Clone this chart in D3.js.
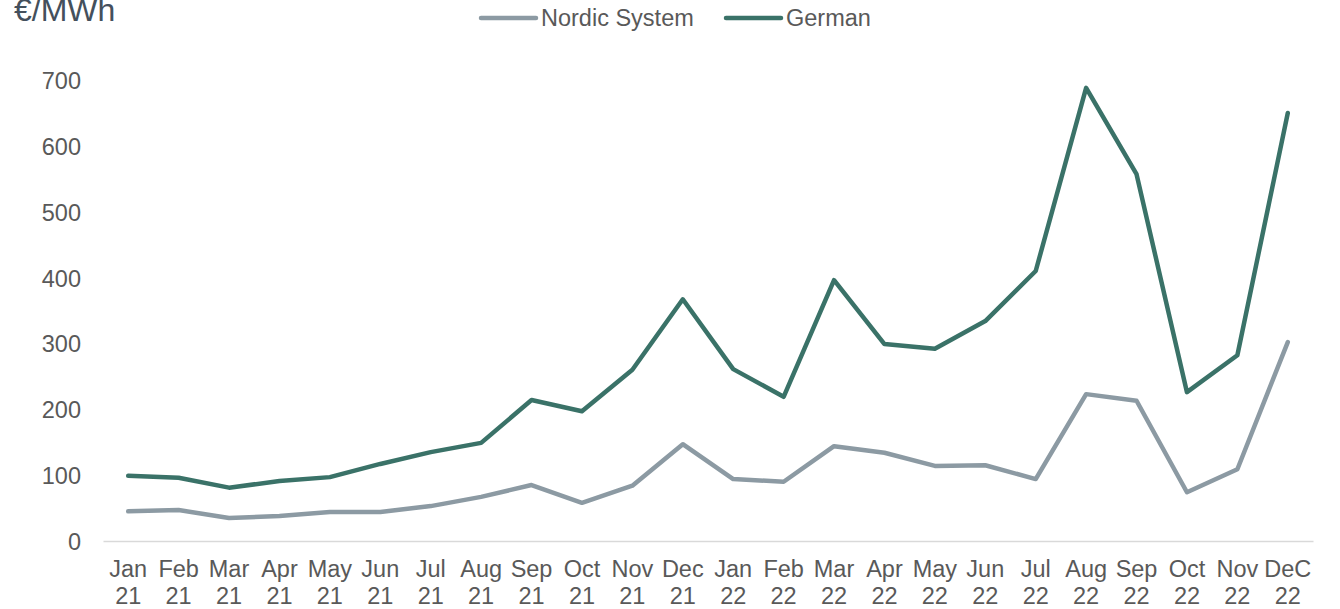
<!DOCTYPE html>
<html>
<head>
<meta charset="utf-8">
<script src="https://cdn.jsdelivr.net/npm/d3@7"></script>
<style>
body { margin: 0; background: #fff; }
text { font-family: "Liberation Sans", Arial, sans-serif; }
</style>
</head>
<body>
<script>
var width = 1340,
    height = 609;

var months = ["Jan","Feb","Mar","Apr","May","Jun","Jul","Aug","Sep","Oct","Nov","Dec",
              "Jan","Feb","Mar","Apr","May","Jun","Jul","Aug","Sep","Oct","Nov","DeC"]
var years = ["21","21","21","21","21","21","21","21","21","21","21","21",
             "22","22","22","22","22","22","22","22","22","22","22","22"]
var categories = months.map(function(m, i) { return m + " " + years[i] })

var nordic = [45, 47, 35, 38, 44, 44, 53, 67, 85, 58, 84, 147,
              94, 90, 144, 134, 114, 115, 94, 223, 213, 74, 109, 302]
var german = [99, 96, 81, 91, 97, 117, 135, 149, 214, 197, 260, 367,
              261, 219, 396, 299, 292, 334, 410, 688, 557, 226, 282, 650]
var yTicks = [0, 100, 200, 300, 400, 500, 600, 700]

var series = [
    { name: "Nordic System", values: nordic, color: "#8c9aa3" },
    { name: "German", values: german, color: "#3a7268" }
]

var xscale = d3.scaleBand()
    .domain(categories)
    .range([103, 1313])

var yscale = d3.scaleLinear()
    .domain([0, 700])
    .range([541, 80])

var svg = d3.select("body")
  .append("svg")
    .attr("width", width)
    .attr("height", height)

// y axis labels, no line
var yAxis = svg.append("g")
    .attr("transform", "translate(81,0)")
    .call(d3.axisLeft(yscale).tickValues(yTicks).tickSize(0).tickPadding(0))
yAxis.select(".domain").remove()
yAxis.selectAll("text")
    .style("font-size", "23.5px")
    .style("fill", "#595959")
    .attr("dy", "0.36em")

// x axis
var xAxis = svg.append("g")
    .attr("transform", "translate(0," + yscale(0) + ")")
    .call(d3.axisBottom(xscale).tickSize(0).tickFormat(""))
xAxis.select(".domain")
    .attr("stroke", "#d9d9d9")
    .attr("stroke-width", 1.5)

var xLabels = svg.append("g")
    .selectAll("text")
    .data(categories).enter()
    .append("text")
    .attr("x", function(d) { return xscale(d) + xscale.bandwidth() / 2 })
    .attr("y", 577)
    .attr("text-anchor", "middle")
    .style("font-size", "23.5px")
    .style("fill", "#595959")
xLabels.append("tspan")
    .attr("x", function(d) { return xscale(d) + xscale.bandwidth() / 2 })
    .text(function(d, i) { return months[i] })
xLabels.append("tspan")
    .attr("x", function(d) { return xscale(d) + xscale.bandwidth() / 2 })
    .attr("dy", 26.5)
    .text(function(d, i) { return years[i] })

var line = d3.line()
    .x(function(d, i) { return xscale(categories[i]) + xscale.bandwidth() / 2 })
    .y(function(d) { return yscale(d) })

svg.append("g")
    .selectAll("path")
    .data(series).enter()
    .append("path")
    .attr("d", function(d) { return line(d.values) })
    .attr("fill", "none")
    .attr("stroke", function(d) { return d.color })
    .attr("stroke-width", 4.5)
    .attr("stroke-linejoin", "round")
    .attr("stroke-linecap", "round")

// unit label
svg.append("text")
    .attr("x", 14)
    .attr("y", 21)
    .text("€/MWh")
    .style("font-size", "32px")
    .style("fill", "#44505c")

// legend
var legendX = [481, 726]
var legend = svg.append("g")
    .selectAll("g")
    .data(series).enter()
    .append("g")
    .attr("transform", function(d, i) { return "translate(" + legendX[i] + ",18)" })
legend.append("line")
    .attr("x1", 0).attr("x2", 55)
    .attr("stroke", function(d) { return d.color })
    .attr("stroke-width", 4.5)
    .attr("stroke-linecap", "round")
legend.append("text")
    .attr("x", 60)
    .attr("dy", "0.36em")
    .text(function(d) { return d.name })
    .style("font-size", "23.5px")
    .style("fill", "#595959")
</script>
</body>
</html>
